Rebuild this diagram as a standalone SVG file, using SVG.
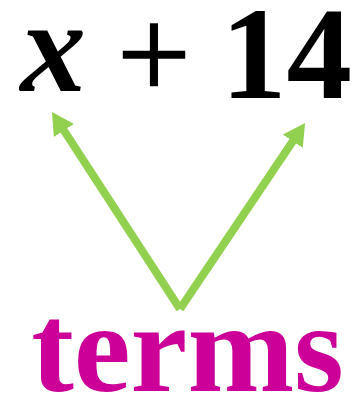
<svg xmlns="http://www.w3.org/2000/svg" width="352" height="395" viewBox="0 0 352 395">
<style>
.math{font-family:"Liberation Serif","Times New Roman",serif;font-size:131px;fill:#000}
.lbl{font-family:"Liberation Serif","Times New Roman",serif;font-weight:bold;font-size:128px;fill:#CC0099}
.arr{stroke:#92D050;stroke-width:8;fill:none}
</style>
<defs>
<marker id="ah" markerUnits="userSpaceOnUse" viewBox="0 0 22 24" markerWidth="22" markerHeight="24" refX="12" refY="12" orient="auto">
<path d="M0,0 L22,12 L0,24 Z" fill="#92D050"/>
</marker>
</defs>
<g id="expr">
<text class="math" x="20.5" y="91" font-size="110" font-weight="bold" font-style="italic">x</text>
<text class="math" x="154" y="98" text-anchor="middle" stroke="#000" stroke-width="1.5">+</text>
<text class="math" x="352" y="98" text-anchor="end" font-weight="bold">14</text>
</g>
<g id="connectors">
<line class="arr" x1="180" y1="309" x2="57.4" y2="120.4" marker-end="url(#ah)"/>
<line class="arr" x1="180" y1="309" x2="299.5" y2="131.3" marker-end="url(#ah)"/>
</g>
<g id="terms">
<text class="lbl" x="187.5" y="391" text-anchor="middle">terms</text>
</g>
</svg>
